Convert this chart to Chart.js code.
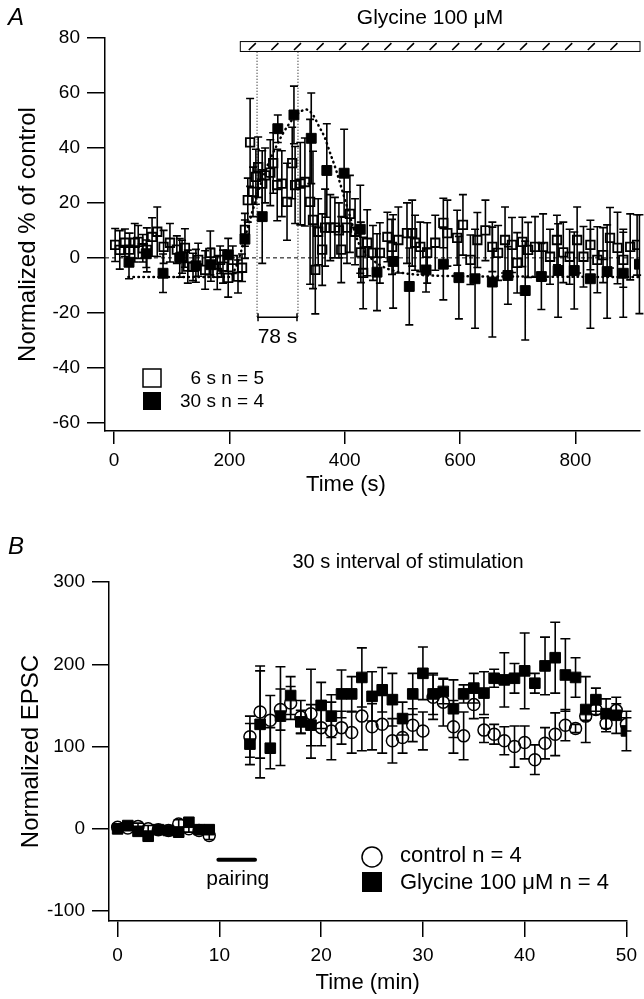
<!DOCTYPE html>
<html lang="en">
<head>
<meta charset="UTF-8" />
<title>Glycine and EPSC</title>
<script src="https://cdn.jsdelivr.net/npm/chart.js@4.4.1/dist/chart.umd.min.js"></script>
<style>
  html, body { margin: 0; padding: 0; background: #fff; }
  #wrap { position: relative; width: 644px; height: 999px; }
  canvas { position: absolute; left: 0; }
  #chartA { top: 0; }
  #chartB { top: 500px; }
</style>
</head>
<body>
<div id="wrap">
  <canvas id="chartA" width="644" height="500"></canvas>
  <canvas id="chartB" width="644" height="499"></canvas>
</div>
<script>
// ---- Panel A: normalized response, time in s ----
// 6 s interval, n = 5 (open squares)
const t6 = [
  2, 10, 19, 27, 36, 42, 50, 57, 66, 75,
  86, 97, 109, 118, 123, 128, 137, 146, 158, 167,
  179, 184, 189, 198, 206, 215, 222, 227, 232, 236,
  241, 246, 250, 257, 262, 271, 276, 283, 291, 300,
  309, 314, 323, 331, 340, 345, 349, 354, 361, 366,
  375, 383, 390, 394, 404, 409, 418, 428, 432, 439,
  449, 461, 474, 482, 493, 508, 517, 522, 531, 543,
  557, 571, 578, 595, 605, 618, 630, 644, 656, 666,
  678, 690, 699, 708, 718, 730, 744, 756, 768, 779,
  790, 803, 814, 826, 838, 848, 860, 873, 883, 895,
  907
];
const val6 = [
  4.7, 2.9, 5.5, 3, 5.5, 5.8, 3.5, 2.9, 7.6, 9.5,
  4, 5.5, 3, 0.4, 3.6, -3.2, -3.3, -0.7, -4.4, 1.8,
  -5.5, -0.7, -3.2, -7.3, -0.7, -6.8, -3.6, 10.2, 21, 42,
  24, 29.5, 33, 27, 30, 31, 34.5, 26.5, 27, 20.4,
  34.5, 26.5, 27, 27.6, 20.4, 13.8, -4.4, 9.5, 3, 11,
  11, 11, 10, 3, 11, 16, 9.5, 2, -5.5, 5.5,
  1.8, 1.8, 7.6, 4, 6.5, 9, 9, 5.5, 4, 1.8,
  5.5, 12.7, 9, 7.3, 12, -0.7, 6.5, 10, 4, 1.8,
  6.5, 4.7, -1.8, 5.8, 2.9, 4, 4, 0.4, 6.5, 2,
  0.4, 6.5, 0.4, 4.7, -0.7, 1, 7.3, 3.6, -0.7, 4,
  4.7
];
const err6 = [
  6, 7, 5, 6, 7, 6, 5, 8, 7, 9,
  6, 7, 5, 6, 7, 6, 5, 6, 7, 8,
  6, 5, 6, 7, 5, 6, 5, 6, 8, 16,
  9, 10, 11, 12, 10, 12, 11, 13, 12, 14,
  13, 14, 15, 16, 30, 25, 16, 12, 13, 14,
  12, 11, 10, 12, 13, 14, 12, 11, 13, 12,
  10, 11, 9, 10, 12, 11, 12, 10, 9, 11,
  10, 9, 12, 10, 11, 9, 10, 11, 9, 10,
  12, 10, 11, 9, 10, 11, 12, 10, 9, 11,
  10, 12, 11, 9, 12, 10, 11, 13, 10, 12,
  11
];
// 30 s interval, n = 4 (filled squares)
const t30 = [26, 56, 85, 114, 142, 168, 198, 227, 257, 284,
  312, 342, 369, 399, 427, 456, 484, 512, 541, 571,
  598, 626, 656, 683, 713, 741, 770, 798, 826, 855, 883, 911];
const val30 = [-1.6, 1.5, -5.6, 0, -2.9, -2.5, 1.1, 6.8, 15, 47,
  52, 43.5, 31.8, 30.8, 10.4, -5.2, -1.3, -10.4, -4.4, -2.3,
  -7.2, -7.6, -8.8, -6.4, -11.9, -6.8, -4.6, -4.6, -7.6, -5, -5.6, -2.3];
const err30 = [6, 5, 7, 7, 6, 6, 6, 7, 17, 5,
  10.5, 16.5, 17, 16, 16, 14, 17, 14, 8, 13,
  15, 18, 20, 10.5, 18, 12, 17, 14, 18, 17, 16, 18];
// dotted fit through the 30 s data
const fitT = [25, 100, 200, 212, 224, 236, 250, 265, 280, 295, 310, 322, 333, 345, 355,
  365, 375, 385, 395, 405, 415, 425, 440, 460, 490, 520, 560, 700, 911];
const fitV = [-7, -7, -7, -3, 5, 14, 24, 33, 40, 46, 50.5, 53, 54, 52, 48,
  44, 38, 32, 25, 18, 11, 5, 1, -2.5, -5, -6, -6.5, -6.8, -7];
const glycineOn = [219, 912];   // s, hatched bar
const peakMarks = [248, 319];   // s, the "78 s" interval
const bracketY = -21.6;

// ---- Panel B: 30 s interval of stimulation, time in min ----
const minB = [0, 1, 2, 3, 4, 5, 6, 7, 8, 9,
  13, 14, 15, 16, 17, 18, 19, 20, 21, 22,
  23, 24, 25, 26, 27, 28, 29, 30, 31, 32,
  33, 34, 35, 36, 37, 38, 39, 40, 41, 42,
  43, 44, 45, 46, 47, 48, 49, 50];
const ctrlV = [2, 1, 3, 0, -1, -2, 6, 0, -2, -8,
  112, 142, 132, 145, 153, 136, 140, 123, 119, 123,
  117, 137, 124, 127, 107, 111, 126, 119, 160, 154,
  124, 113, 151, 120, 115, 107, 100, 105, 84, 104,
  115, 126, 122, 137, 145, 128, 144, 127];
const ctrlErr = [4, 3, 4, 4, 3, 4, 5, 4, 3, 5,
  25, 56, 30, 25, 20, 20, 54, 22, 35, 20,
  25, 42, 28, 35, 27, 19, 20, 23, 27, 29,
  32, 29, 17, 15, 12, 17, 25, 20, 18, 19,
  26, 19, 5, 5, 6, 10, 8, 8];
const glyV = [0, 4, -3, -9, -1, -2, -4, 8, -1, -1,
  103, 127, 98, 137, 162, 130, 126, 150, 137, 164,
  164, 184, 161, 169, 157, 134, 164, 189, 164, 167,
  146, 164, 171, 165, 183, 181, 183, 192, 177, 198,
  208, 187, 184, 145, 157, 140, 138, 119];
const glyErr = [5, 4, 5, 6, 4, 5, 6, 5, 4, 5,
  25, 65, 25, 60, 23, 14, 25, 28, 26, 29,
  21, 36, 30, 27, 32, 20, 25, 32, 25, 15,
  35, 11, 18, 26, 11, 33, 18, 46, 12, 35,
  43, 44, 24, 40, 14, 18, 22, 24];
const pairing = [9.9, 13.5];
const pairingY = -37.6;

const FONT = '"Liberation Sans", Arial, Helvetica, sans-serif';
const pts = (xs, ys) => xs.map((x, i) => ({ x: x, y: ys[i] }));

function errorBars(chart, xs, ys, es, cap) {
  const sx = chart.scales.x, sy = chart.scales.y, ctx = chart.ctx;
  ctx.save();
  ctx.strokeStyle = '#000';
  ctx.lineWidth = 1.6;
  ctx.beginPath();
  xs.forEach((t, i) => {
    const px = sx.getPixelForValue(t);
    const top = sy.getPixelForValue(ys[i] + es[i]);
    const bot = sy.getPixelForValue(ys[i] - es[i]);
    ctx.moveTo(px, top); ctx.lineTo(px, bot);
    ctx.moveTo(px - cap, top); ctx.lineTo(px + cap, top);
    ctx.moveTo(px - cap, bot); ctx.lineTo(px + cap, bot);
  });
  ctx.stroke();
  ctx.restore();
}

function axisOpts(min, max, step, tickLen, pad, title, titlePad, fitSize, horiz) {
  return {
    type: 'linear', min: min, max: max,
    afterFit: (s) => { if (horiz) s.height = fitSize; else s.width = fitSize; },
    border: { display: true, color: '#000', width: 1.5 },
    grid: { display: true, drawOnChartArea: false, drawTicks: true, tickLength: tickLen, color: '#000', lineWidth: 1.5 },
    ticks: { stepSize: step, includeBounds: false, autoSkip: false, maxRotation: 0, padding: pad, color: '#000', font: { family: FONT, size: 19 } },
    title: { display: title !== '', text: title, color: '#000', font: { family: FONT, size: horiz ? 22 : 24 }, padding: titlePad }
  };
}

// ---- Chart A ----
const panelA = {
  id: 'panelA',
  beforeDatasetsDraw(chart) {
    const { ctx, scales: { x, y }, chartArea } = chart;
    ctx.save();
    // zero line
    ctx.strokeStyle = '#000';
    ctx.lineWidth = 1;
    ctx.setLineDash([4, 3]);
    ctx.beginPath();
    ctx.moveTo(chartArea.left, y.getPixelForValue(0));
    ctx.lineTo(chartArea.right, y.getPixelForValue(0));
    ctx.stroke();
    // vertical dotted markers
    ctx.setLineDash([1, 2]);
    ctx.beginPath();
    peakMarks.forEach((t) => {
      ctx.moveTo(x.getPixelForValue(t), y.getPixelForValue(75));
      ctx.lineTo(x.getPixelForValue(t), y.getPixelForValue(bracketY));
    });
    ctx.stroke();
    ctx.setLineDash([]);
    // bracket
    const bx0 = x.getPixelForValue(peakMarks[0]), bx1 = x.getPixelForValue(peakMarks[1]);
    const by = y.getPixelForValue(bracketY);
    ctx.lineWidth = 1.5;
    ctx.beginPath();
    ctx.moveTo(bx0, by); ctx.lineTo(bx1, by);
    ctx.moveTo(bx0 + 1, by - 4); ctx.lineTo(bx0 + 1, by + 4);
    ctx.moveTo(bx1 - 1, by - 4); ctx.lineTo(bx1 - 1, by + 4);
    ctx.stroke();
    ctx.restore();
    errorBars(chart, t6, val6, err6, 4);
    errorBars(chart, t30, val30, err30, 4);
  },
  afterDraw(chart) {
    const { ctx, scales: { x, y } } = chart;
    ctx.save();
    // glycine bar
    const gx0 = x.getPixelForValue(glycineOn[0]), gx1 = x.getPixelForValue(glycineOn[1]);
    const gy0 = y.getPixelForValue(78.7), gy1 = y.getPixelForValue(75.1);
    ctx.fillStyle = '#fff';
    ctx.fillRect(gx0, gy0, gx1 - gx0, gy1 - gy0);
    ctx.strokeStyle = '#000';
    ctx.lineWidth = 1;
    ctx.strokeRect(gx0, gy0, gx1 - gx0, gy1 - gy0);
    ctx.lineWidth = 1.6;
    ctx.beginPath();
    for (let hx = gx0 + 12; hx < gx1 - 4; hx += 22.6) {
      ctx.moveTo(hx - 3.5, gy1 - 1.5);
      ctx.lineTo(hx + 3.5, gy0 + 1.5);
    }
    ctx.stroke();
    // texts
    ctx.fillStyle = '#000';
    ctx.textBaseline = 'middle';
    ctx.font = 'italic 24px ' + FONT;
    ctx.textAlign = 'left';
    ctx.fillText('A', 8, 18);
    ctx.font = '21px ' + FONT;
    ctx.textAlign = 'center';
    ctx.fillText('Glycine 100 \u03bcM', 430, 18);
    ctx.fillText('78 s', (x.getPixelForValue(peakMarks[0]) + x.getPixelForValue(peakMarks[1])) / 2, y.getPixelForValue(-28.7));
    ctx.font = '22px ' + FONT;
    ctx.fillText('Time (s)', 346, 485);
    // legend
    ctx.font = '19px ' + FONT;
    ctx.lineWidth = 1.5;
    ctx.strokeRect(143, 369, 18, 18);
    ctx.fillRect(143, 392, 18, 18);
    ctx.textAlign = 'right';
    ctx.fillText('6 s n = 5', 264, 379);
    ctx.fillText('30 s n = 4', 264, 402);
    ctx.restore();
  }
};

new Chart(document.getElementById('chartA'), {
  type: 'scatter',
  data: {
    datasets: [
      { label: '30 s n = 4', data: pts(t30, val30), pointStyle: 'rect', pointRadius: 7,
        backgroundColor: '#000', borderColor: '#000', pointBorderWidth: 1 },
      { label: '6 s n = 5', data: pts(t6, val6), pointStyle: 'rect', pointRadius: 6,
        backgroundColor: 'rgba(0,0,0,0)', borderColor: '#000', pointBorderWidth: 1.8 },
      { label: 'fit', data: pts(fitT, fitV), showLine: true, pointRadius: 0,
        borderColor: '#000', borderWidth: 2.5, borderDash: [0.5, 4.5], borderCapStyle: 'round',
        cubicInterpolationMode: 'monotone' }
    ]
  },
  options: {
    responsive: false, animation: false, devicePixelRatio: 1,
    layout: { autoPadding: false, padding: { left: 0, right: 4, top: 38, bottom: 0 } },
    plugins: { legend: { display: false }, tooltip: { enabled: false } },
    scales: {
      x: axisOpts(-15.6, 912, 200, 13, 5, '', { top: 0, bottom: 3 }, 69, true),
      y: axisOpts(-63, 80, 20, 18, 7, 'Normalized % of control', { top: 14, bottom: 0 }, 105, false)
    }
  },
  plugins: [panelA]
});

// ---- Chart B ----
const panelB = {
  id: 'panelB',
  beforeDatasetsDraw(chart) {
    errorBars(chart, minB, ctrlV, ctrlErr, 5);
    errorBars(chart, minB, glyV, glyErr, 5);
  },
  afterDraw(chart) {
    const { ctx, scales: { x, y } } = chart;
    ctx.save();
    // pairing bar
    ctx.strokeStyle = '#000';
    ctx.lineWidth = 4;
    ctx.lineCap = 'round';
    ctx.beginPath();
    ctx.moveTo(x.getPixelForValue(pairing[0]), y.getPixelForValue(pairingY));
    ctx.lineTo(x.getPixelForValue(pairing[1]), y.getPixelForValue(pairingY));
    ctx.stroke();
    ctx.fillStyle = '#000';
    ctx.textBaseline = 'middle';
    ctx.textAlign = 'center';
    ctx.font = '21px ' + FONT;
    ctx.fillText('pairing', x.getPixelForValue(11.8), y.getPixelForValue(-60.7));
    ctx.font = '20px ' + FONT;
    ctx.fillText('30 s interval of stimulation', 408, 62);
    ctx.font = 'italic 24px ' + FONT;
    ctx.textAlign = 'left';
    ctx.fillText('B', 8, 47);
    // legend
    ctx.lineWidth = 1.5;
    ctx.beginPath();
    ctx.arc(372, 357, 10, 0, Math.PI * 2);
    ctx.stroke();
    ctx.fillRect(362, 372, 20, 20);
    ctx.font = '22px ' + FONT;
    ctx.fillText('control n = 4', 400, 356);
    ctx.fillText('Glycine 100 \u03bcM n = 4', 400, 383);
    ctx.restore();
  }
};

new Chart(document.getElementById('chartB'), {
  type: 'scatter',
  data: {
    datasets: [
      { label: 'Glycine 100 \u03bcM n = 4', data: pts(minB, glyV), pointStyle: 'rect', pointRadius: 7.5,
        backgroundColor: '#000', borderColor: '#000', pointBorderWidth: 1 },
      { label: 'control n = 4', data: pts(minB, ctrlV), pointStyle: 'circle', pointRadius: 6,
        backgroundColor: 'rgba(0,0,0,0)', borderColor: '#000', pointBorderWidth: 1.5 }
    ]
  },
  options: {
    responsive: false, animation: false, devicePixelRatio: 1,
    layout: { autoPadding: false, padding: { left: 0, right: 14.5, top: 82, bottom: 0 } },
    plugins: { legend: { display: false }, tooltip: { enabled: false } },
    scales: {
      x: axisOpts(-0.85, 50, 10, 16, 7, 'Time (min)', { top: 0, bottom: 3 }, 78, true),
      y: axisOpts(-112, 300, 100, 17, 7, 'Normalized EPSC', { top: 17, bottom: 0 }, 109, false)
    }
  },
  plugins: [panelB]
});
</script>
</body>
</html>
